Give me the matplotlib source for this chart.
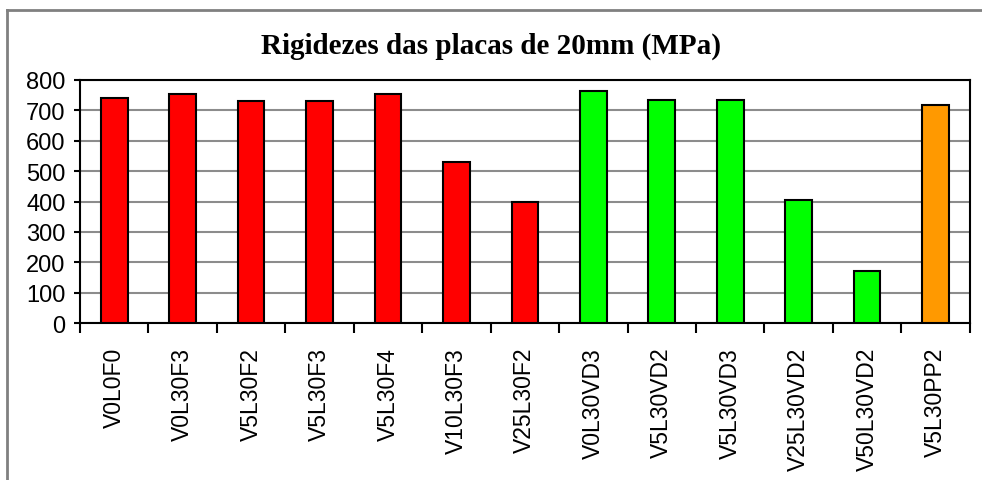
import matplotlib
matplotlib.use('Agg')
import matplotlib.pyplot as plt
from matplotlib.lines import Line2D

labels = ['V0L0F0', 'V0L30F3', 'V5L30F2', 'V5L30F3', 'V5L30F4', 'V10L30F3', 'V25L30F2',
          'V0L30VD3', 'V5L30VD2', 'V5L30VD3', 'V25L30VD2', 'V50L30VD2', 'V5L30PP2']
values = [740, 754, 730, 730, 754, 530, 400, 764, 735, 735, 405, 172, 718]
colors = ['#FF0000'] * 7 + ['#00FF00'] * 5 + ['#FF9900']

plt.rcParams['font.family'] = ['Liberation Sans', 'DejaVu Sans']

fig = plt.figure(figsize=(9.82, 4.81), dpi=100)
# border of the chart area (cropped on right and bottom)
fig.lines.append(Line2D([6.5 / 982, 6.5 / 982], [0, 1 - 10.5 / 481], transform=fig.transFigure,
                        color='#808080', linewidth=2))
fig.lines.append(Line2D([6.5 / 982, 1], [1 - 10.5 / 481, 1 - 10.5 / 481], transform=fig.transFigure,
                        color='#808080', linewidth=2))

ax = fig.add_axes([0.0815, 0.326, 0.906, 0.506])

x = list(range(len(labels)))
ax.bar(x, values, width=0.39, color=colors, edgecolor='black', linewidth=1.5, zorder=3)

ax.set_xlim(-0.5, len(labels) - 0.5)
ax.set_ylim(0, 800)
ax.set_yticks(range(0, 801, 100))
ax.tick_params(axis='y', labelsize=17, length=4.5, width=1.5, direction='out', pad=6)
ax.yaxis.grid(True, color='#8c8c8c', linewidth=1.5, zorder=0)

ax.set_xticks([i - 0.5 for i in range(len(labels) + 1)])
ax.set_xticklabels([])
ax.set_xticks(x, minor=True)
ax.set_xticklabels(labels, minor=True, rotation=90, fontsize=16.5)
ax.tick_params(axis='x', which='major', length=7, width=1.5, direction='out')
ax.tick_params(axis='x', which='minor', length=0, pad=17)

for s in ax.spines.values():
    s.set_linewidth(1.5)
    s.set_color('black')

fig.text(0.5, 0.903, 'Rigidezes das placas de 20mm (MPa)', ha='center', va='center',
         fontsize=21, fontweight='bold', family=['Liberation Serif', 'DejaVu Serif'])

fig.savefig('out.png', dpi=100)
